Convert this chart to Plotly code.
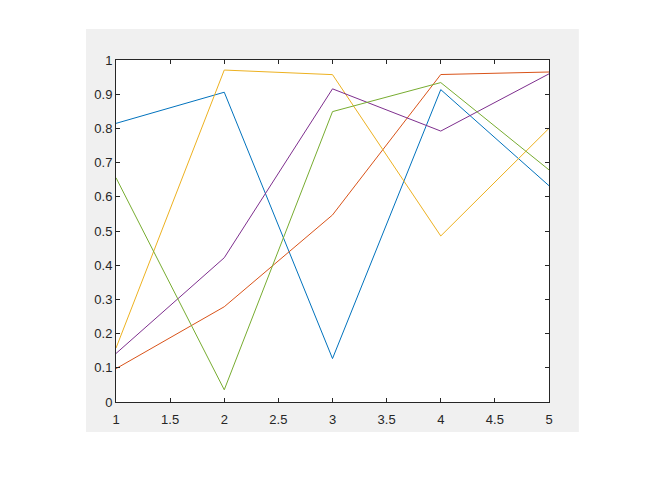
import plotly.graph_objects as go

x = [1, 2, 3, 4, 5]

# one list per line
s1 = [0.8147, 0.9058, 0.1270, 0.9134, 0.6324]
s2 = [0.0975, 0.2785, 0.5469, 0.9575, 0.9649]
s3 = [0.1576, 0.9706, 0.9572, 0.4854, 0.8003]
s4 = [0.1419, 0.4218, 0.9157, 0.7922, 0.9595]
s5 = [0.6557, 0.0357, 0.8491, 0.9340, 0.6787]

series = [s1, s2, s3, s4, s5]
colors = ['#0072BD', '#D95319', '#EDB120', '#7E2F8E', '#77AC30']

xticks = [1, 1.5, 2, 2.5, 3, 3.5, 4, 4.5, 5]
xlabels = ['1', '1.5', '2', '2.5', '3', '3.5', '4', '4.5', '5']
yticks = [0, 0.1, 0.2, 0.3, 0.4, 0.5, 0.6, 0.7, 0.8, 0.9, 1]
ylabels = ['0', '0.1', '0.2', '0.3', '0.4', '0.5', '0.6', '0.7', '0.8', '0.9', '1']

fig = go.Figure()
for ys, c in zip(series, colors):
    fig.add_trace(go.Scatter(x=x, y=ys, mode='lines',
                             line=dict(color=c, width=1),
                             hoverinfo='none'))

axis = dict(showline=True, linecolor='#262626', linewidth=1,
            mirror='ticks', ticks='inside', ticklen=4, tickcolor='#262626',
            showgrid=False, zeroline=False,
            tickfont=dict(family='Liberation Sans, Arial', size=13, color='#262626'))

fig.update_xaxes(axis, range=[1, 5], tickvals=xticks, ticktext=xlabels,
                 ticklabelstandoff=5)
fig.update_yaxes(axis, range=[0, 1], tickvals=yticks, ticktext=ylabels)

# grey figure panel behind the axes, white axes area on top of it
fig.add_shape(type='rect', xref='paper', yref='paper',
              x0=-0.0693, x1=1.069, y0=-0.0877, y1=1.0906,
              fillcolor='#f0f0f0', line=dict(width=0), layer='below')
fig.add_shape(type='rect', xref='paper', yref='paper',
              x0=0, x1=1, y0=0, y1=1,
              fillcolor='white', line=dict(width=0), layer='below')

# page body has an 8px margin, so the figure is 8px smaller
fig.update_layout(width=660, height=488,
                  margin=dict(l=108, r=119, t=52, b=94),
                  paper_bgcolor='white', plot_bgcolor='white',
                  showlegend=False)

fig.write_html("out.html")
